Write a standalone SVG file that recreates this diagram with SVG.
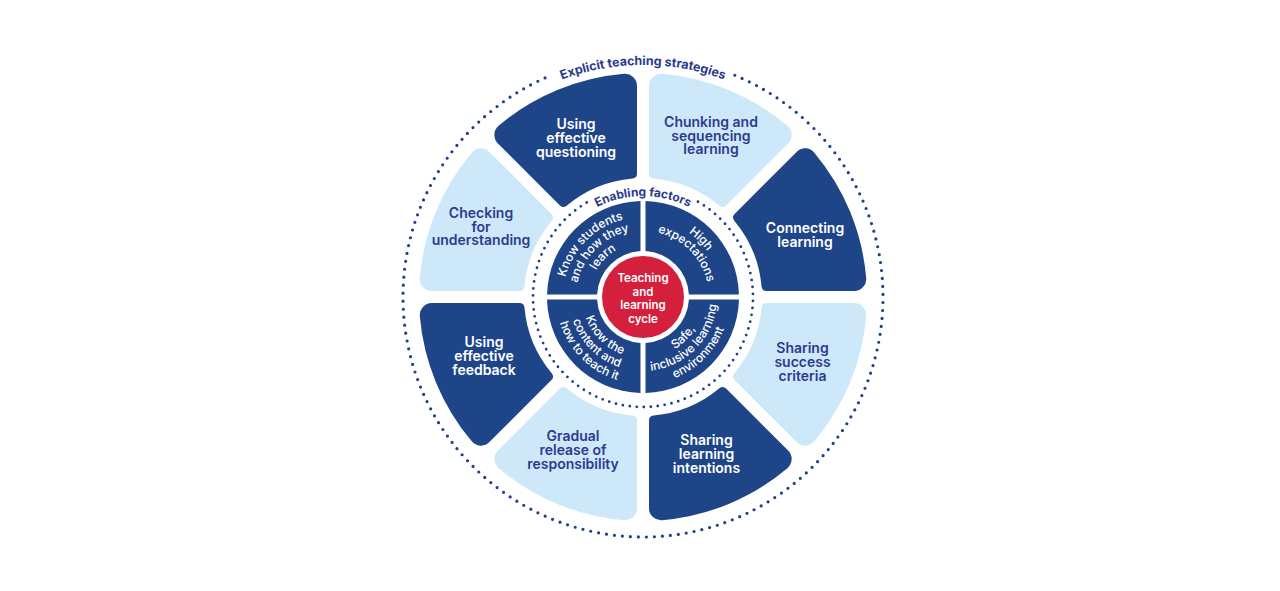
<svg xmlns="http://www.w3.org/2000/svg" xmlns:xlink="http://www.w3.org/1999/xlink" width="1280" height="591" viewBox="0 0 1280 591">
<style>
.dk{fill:#1f4589}
.lt{fill:#cde9f9}
.t{font-family:Inter,'Liberation Sans',sans-serif;font-weight:600;font-size:14px;text-anchor:middle}
.tw{fill:#ffffff}
.tn{fill:#2e3a8f}
.qt{font-family:Inter,'Liberation Sans',sans-serif;font-weight:500;font-size:12px;fill:#ffffff}
.arc{font-family:Inter,'Liberation Sans',sans-serif;font-weight:700;fill:#2b3a8c}
.dots{fill:none;stroke:#1f3f8a;stroke-linecap:round}
.ct{font-family:Inter,'Liberation Sans',sans-serif;font-weight:600;font-size:11.5px;fill:#ffffff;text-anchor:middle}
</style>
<defs>
<path id="seg" d="M116.406 41.722 L197.451 75.292 A12 12 0 0 0 213.479 67.839 A224 224 0 0 0 213.479 -67.839 A12 12 0 0 0 197.451 -75.292 L116.406 -41.722 A5 5 0 0 0 113.548 -35.607 A119 119 0 0 1 113.548 35.607 A5 5 0 0 0 116.406 41.722 Z"/>
<path id="quad" d="M-45.932 -2.5 L-95.967 -2.5 A96 96 0 0 1 -2.5 -95.967 L-2.5 -45.932 A46 46 0 0 0 -45.932 -2.5 Z"/>
<path id="pOuter" d="M424.99 217.65 A232 232 0 0 1 861.01 217.65"/>
<path id="pInner" d="M548.09 262.46 A101 101 0 0 1 737.91 262.46"/>
<path id="tl1" d="M565.72 317.71 A80 80 0 0 1 663.71 219.72"/>
<path id="tl2" d="M578.28 314.34 A67 67 0 0 1 660.34 232.28"/>
<path id="tl3" d="M590.84 310.98 A54 54 0 0 1 656.98 244.84"/>
<path id="tr1" d="M622.55 220.69 A79 79 0 0 1 719.31 317.45"/>
<path id="tr2" d="M625.92 233.25 A66 66 0 0 1 706.75 314.08"/>
<path id="bl1" d="M584.08 281.21 A61 61 0 0 0 658.79 355.92"/>
<path id="bl2" d="M571.50 277.84 A74 74 0 0 0 662.16 368.50"/>
<path id="bl3" d="M558.96 274.48 A87 87 0 0 0 665.52 381.04"/>
<path id="br1" d="M627.21 355.92 A61 61 0 0 0 701.92 281.21"/>
<path id="br2" d="M623.84 368.50 A74 74 0 0 0 714.48 277.84"/>
<path id="br3" d="M620.48 381.04 A87 87 0 0 0 727.04 274.48"/>
</defs>
<rect width="1280" height="591" fill="#ffffff"/>

<g id="connectors">
<path class="dots" stroke-width="3.2" stroke-dasharray="0 8" d="M734.84 75.27 A240 240 0 1 1 551.16 75.27"/>
<path class="dots" stroke-width="2.8" stroke-dasharray="0 7" d="M698 201.74 A110 110 0 1 1 588 201.74"/>
</g>

<g id="label-explicit">
<text class="arc" font-size="12.5"><textPath xlink:href="#pOuter" href="#pOuter" startOffset="50%" text-anchor="middle">Explicit teaching strategies</textPath></text>
</g>
<g id="label-enabling">
<text class="arc" font-size="12"><textPath xlink:href="#pInner" href="#pInner" startOffset="50%" text-anchor="middle">Enabling factors</textPath></text>
</g>

<g id="seg-questioning">
<use xlink:href="#seg" href="#seg" class="dk" transform="translate(643 297) rotate(247.5)"/>
<text class="t tw"><tspan x="576" y="129">Using</tspan><tspan x="576" y="143">effective</tspan><tspan x="576" y="157">questioning</tspan></text>
</g>
<g id="seg-chunking">
<use xlink:href="#seg" href="#seg" class="lt" transform="translate(643 297) rotate(292.5)"/>
<text class="t tn"><tspan x="711" y="127">Chunking and</tspan><tspan x="711" y="140.5">sequencing</tspan><tspan x="711" y="154">learning</tspan></text>
</g>
<g id="seg-connecting">
<use xlink:href="#seg" href="#seg" class="dk" transform="translate(643 297) rotate(337.5)"/>
<text class="t tw"><tspan x="805" y="233">Connecting</tspan><tspan x="805" y="247">learning</tspan></text>
</g>
<g id="seg-success">
<use xlink:href="#seg" href="#seg" class="lt" transform="translate(643 297) rotate(22.5)"/>
<text class="t tn"><tspan x="802.5" y="353">Sharing</tspan><tspan x="802.5" y="367">success</tspan><tspan x="802.5" y="381">criteria</tspan></text>
</g>
<g id="seg-intentions">
<use xlink:href="#seg" href="#seg" class="dk" transform="translate(643 297) rotate(67.5)"/>
<text class="t tw"><tspan x="706.5" y="445">Sharing</tspan><tspan x="706.5" y="459">learning</tspan><tspan x="706.5" y="473">intentions</tspan></text>
</g>
<g id="seg-gradual">
<use xlink:href="#seg" href="#seg" class="lt" transform="translate(643 297) rotate(112.5)"/>
<text class="t tn"><tspan x="573" y="440.5">Gradual</tspan><tspan x="573" y="454.5">release of</tspan><tspan x="573" y="468.5">responsibility</tspan></text>
</g>
<g id="seg-feedback">
<use xlink:href="#seg" href="#seg" class="dk" transform="translate(643 297) rotate(157.5)"/>
<text class="t tw"><tspan x="484" y="347">Using</tspan><tspan x="484" y="361">effective</tspan><tspan x="484" y="375">feedback</tspan></text>
</g>
<g id="seg-checking">
<use xlink:href="#seg" href="#seg" class="lt" transform="translate(643 297) rotate(202.5)"/>
<text class="t tn"><tspan x="481" y="218">Checking</tspan><tspan x="481" y="231.5">for</tspan><tspan x="481" y="245">understanding</tspan></text>
</g>

<g id="q-know-students">
<use xlink:href="#quad" href="#quad" class="dk" transform="translate(643 297)"/>
<text class="qt"><textPath xlink:href="#tl1" href="#tl1" startOffset="50%" text-anchor="middle">Know students</textPath></text>
<text class="qt"><textPath xlink:href="#tl2" href="#tl2" startOffset="50%" text-anchor="middle">and how they</textPath></text>
<text class="qt"><textPath xlink:href="#tl3" href="#tl3" startOffset="50%" text-anchor="middle">learn</textPath></text>
</g>
<g id="q-high-expectations">
<use xlink:href="#quad" href="#quad" class="dk" transform="translate(643 297) rotate(90)"/>
<text class="qt"><textPath xlink:href="#tr1" href="#tr1" startOffset="50%" text-anchor="middle">High</textPath></text>
<text class="qt"><textPath xlink:href="#tr2" href="#tr2" startOffset="50%" text-anchor="middle">expectations</textPath></text>
</g>
<g id="q-safe">
<use xlink:href="#quad" href="#quad" class="dk" transform="translate(643 297) rotate(180)"/>
<text class="qt"><textPath xlink:href="#br1" href="#br1" startOffset="50%" text-anchor="middle">Safe,</textPath></text>
<text class="qt"><textPath xlink:href="#br2" href="#br2" startOffset="50%" text-anchor="middle">inclusive learning</textPath></text>
<text class="qt"><textPath xlink:href="#br3" href="#br3" startOffset="50%" text-anchor="middle">environment</textPath></text>
</g>
<g id="q-know-content">
<use xlink:href="#quad" href="#quad" class="dk" transform="translate(643 297) rotate(270)"/>
<text class="qt"><textPath xlink:href="#bl1" href="#bl1" startOffset="50%" text-anchor="middle">Know the</textPath></text>
<text class="qt"><textPath xlink:href="#bl2" href="#bl2" startOffset="50%" text-anchor="middle">content and</textPath></text>
<text class="qt"><textPath xlink:href="#bl3" href="#bl3" startOffset="50%" text-anchor="middle">how to teach it</textPath></text>
</g>

<g id="center-cycle">
<circle cx="643" cy="297" r="41" fill="#d41f3d"/>
<text class="ct"><tspan x="643" y="282">Teaching</tspan><tspan x="643" y="295.5">and</tspan><tspan x="643" y="309">learning</tspan><tspan x="643" y="322.5">cycle</tspan></text>
</g>
</svg>
